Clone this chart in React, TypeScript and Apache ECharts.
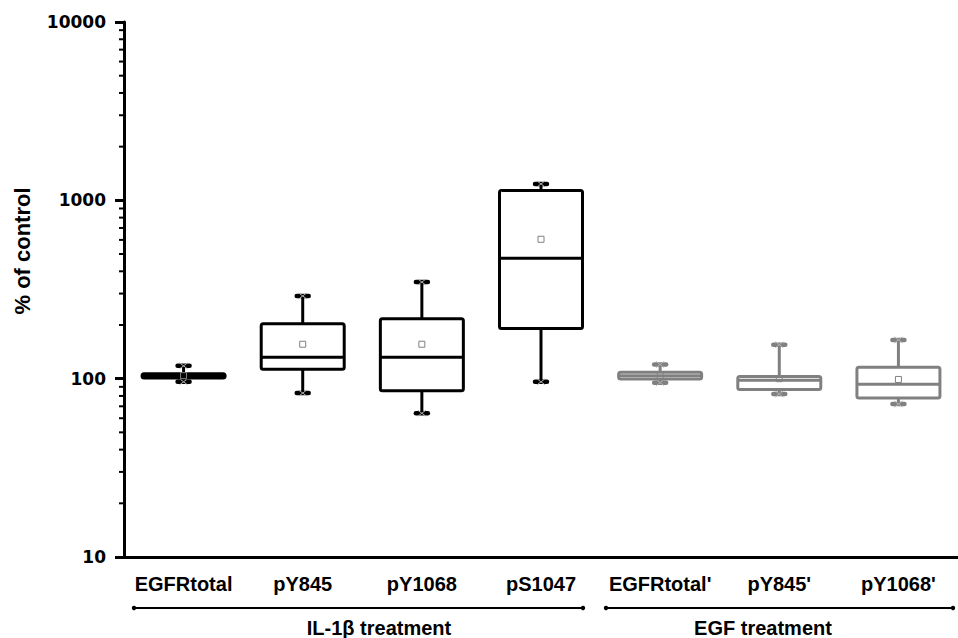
import React, { useEffect, useRef } from "react";
import * as echarts from "echarts";

const categories = ["EGFRtotal", "pY845", "pY1068", "pS1047", "EGFRtotal'", "pY845'", "pY1068'"];
const minValues = [96, 83, 64, 96, 95, 82, 72];
const q1Values = [101, 113, 85.5, 191, 99.5, 87, 78];
const medianValues = [104, 132, 132, 473, 104, 98, 93];
const q3Values = [106.5, 203, 217, 1136, 108.5, 103, 116];
const maxValues = [118, 291, 348, 1236, 120, 155, 165];
const meanValues = [104, 156, 156, 605, 104, 100, 99];
const boxColors = ["#000000", "#000000", "#000000", "#000000", "#808080", "#808080", "#808080"];
const yTickLabels = [10, 100, 1000, 10000];
const minorTickValues = [
  20, 30, 40, 50, 60, 70, 80, 90,
  200, 300, 400, 500, 600, 700, 800, 900,
  2000, 3000, 4000, 5000, 6000, 7000, 8000, 9000,
];
const groupLabels = ["IL-1β treatment", "EGF treatment"];

export default function App() {
  const ref = useRef<HTMLDivElement>(null);
  useEffect(() => {
    if (!ref.current) return;
    const chart = echarts.init(ref.current, null, { renderer: "svg" });
    const boxData = categories.map((_, i) => [
      i,
      minValues[i],
      q1Values[i],
      medianValues[i],
      q3Values[i],
      maxValues[i],
      meanValues[i],
    ]);
    const HW = 41.5;
    const option: any = {
      animation: false,
      grid: { left: 124, top: 22, bottom: 81, width: 840, containLabel: false },
      xAxis: {
        type: "category",
        data: categories,
        boundaryGap: true,
        axisLine: { lineStyle: { color: "#000", width: 3 } },
        axisTick: { alignWithLabel: true, length: 8, lineStyle: { color: "#000", width: 3 } },
        axisLabel: {
          interval: 0,
          color: "#000",
          fontFamily: "Liberation Sans",
          fontWeight: "bold",
          fontSize: 20,
          margin: 17,
        },
        splitLine: { show: false },
      },
      yAxis: {
        type: "log",
        logBase: 10,
        min: yTickLabels[0],
        max: yTickLabels[yTickLabels.length - 1],
        axisLine: { show: true, lineStyle: { color: "#000", width: 3 } },
        axisTick: { show: true, length: 9, lineStyle: { color: "#000", width: 3 } },
        axisLabel: {
          color: "#000",
          fontFamily: "DejaVu Sans",
          fontWeight: "bold",
          fontSize: 17,
          margin: 18,
          formatter: (v: number) => String(Math.round(v)),
        },
        splitLine: { show: false },
      },
      series: [
        {
          type: "custom",
          name: "minorTicks",
          silent: true,
          clip: false,
          data: minorTickValues.map((v) => [0, v]),
          encode: { x: 0, y: 1 },
          renderItem: (params: any, api: any) => {
            const y = api.coord([0, api.value(1)])[1];
            const x0 = params.coordSys.x;
            return {
              type: "line",
              shape: { x1: x0 - 5, y1: y, x2: x0, y2: y },
              style: { stroke: "#000", lineWidth: 2 },
            };
          },
        },
        {
          type: "custom",
          name: "box",
          clip: false,
          data: boxData,
          encode: { x: 0, y: [1, 5] },
          renderItem: (params: any, api: any) => {
            const i = api.value(0);
            const x = api.coord([i, api.value(3)])[0];
            const yMin = api.coord([i, api.value(1)])[1];
            const yQ1 = api.coord([i, api.value(2)])[1];
            const yMed = api.coord([i, api.value(3)])[1];
            const yQ3 = api.coord([i, api.value(4)])[1];
            const yMax = api.coord([i, api.value(5)])[1];
            const yMean = api.coord([i, api.value(6)])[1];
            const c = boxColors[i];
            const mark = (yy: number) => [
              {
                type: "line",
                shape: { x1: x - 4, y1: yy - 3, x2: x + 4, y2: yy + 3 },
                style: { stroke: "#b0b0b0", lineWidth: 1 },
              },
              {
                type: "line",
                shape: { x1: x - 4, y1: yy + 3, x2: x + 4, y2: yy - 3 },
                style: { stroke: "#b0b0b0", lineWidth: 1 },
              },
            ];
            const children: any[] = [
              {
                type: "line",
                shape: { x1: x, y1: yQ3, x2: x, y2: yMax },
                style: { stroke: c, lineWidth: 3 },
              },
              {
                type: "line",
                shape: { x1: x, y1: yQ1, x2: x, y2: yMin },
                style: { stroke: c, lineWidth: 3 },
              },
              {
                type: "line",
                shape: { x1: x - 6, y1: yMax, x2: x + 6, y2: yMax },
                style: { stroke: c, lineWidth: 4.5, lineCap: "round" },
              },
              {
                type: "line",
                shape: { x1: x - 6, y1: yMin, x2: x + 6, y2: yMin },
                style: { stroke: c, lineWidth: 4.5, lineCap: "round" },
              },
              ...mark(yMax),
              ...mark(yMin),
              {
                type: "rect",
                shape: { x: x - HW, y: yQ3, width: HW * 2, height: yQ1 - yQ3, r: 2 },
                style: { fill: "#fff", stroke: c, lineWidth: 3, lineJoin: "round" },
              },
              {
                type: "line",
                shape: { x1: x - HW, y1: yMed, x2: x + HW, y2: yMed },
                style: { stroke: c, lineWidth: 3 },
              },
              {
                type: "rect",
                shape: { x: x - 3, y: yMean - 3, width: 6, height: 6 },
                style: { fill: "none", stroke: "#808080", lineWidth: 1 },
              },
            ];
            return { type: "group", children };
          },
        },
      ],
      graphic: [
        {
          type: "text",
          x: 22,
          y: 251,
          rotation: Math.PI / 2,
          style: {
            text: "% of control",
            fill: "#000",
            font: "bold 22px 'Liberation Sans'",
            align: "center",
            verticalAlign: "middle",
          },
        },
        {
          type: "line",
          shape: { x1: 134, y1: 608, x2: 583, y2: 608 },
          style: { stroke: "#000", lineWidth: 2 },
        },
        { type: "circle", shape: { cx: 134, cy: 608, r: 2.2 }, style: { fill: "#000" } },
        { type: "circle", shape: { cx: 583, cy: 608, r: 2.2 }, style: { fill: "#000" } },
        {
          type: "line",
          shape: { x1: 606, y1: 608, x2: 953, y2: 608 },
          style: { stroke: "#000", lineWidth: 2 },
        },
        { type: "circle", shape: { cx: 606, cy: 608, r: 2.2 }, style: { fill: "#000" } },
        { type: "circle", shape: { cx: 953, cy: 608, r: 2.2 }, style: { fill: "#000" } },
        {
          type: "text",
          x: 379,
          y: 628,
          style: {
            text: groupLabels[0],
            fill: "#000",
            font: "bold 20px 'Liberation Sans'",
            align: "center",
            verticalAlign: "middle",
          },
        },
        {
          type: "text",
          x: 763,
          y: 628,
          style: {
            text: groupLabels[1],
            fill: "#000",
            font: "bold 20px 'Liberation Sans'",
            align: "center",
            verticalAlign: "middle",
          },
        },
      ],
    };
    chart.setOption(option);
    return () => chart.dispose();
  }, []);
  return (
    <div
      ref={ref}
      style={{ position: "absolute", left: 0, top: 0, width: 958, height: 638 }}
    />
  );
}
